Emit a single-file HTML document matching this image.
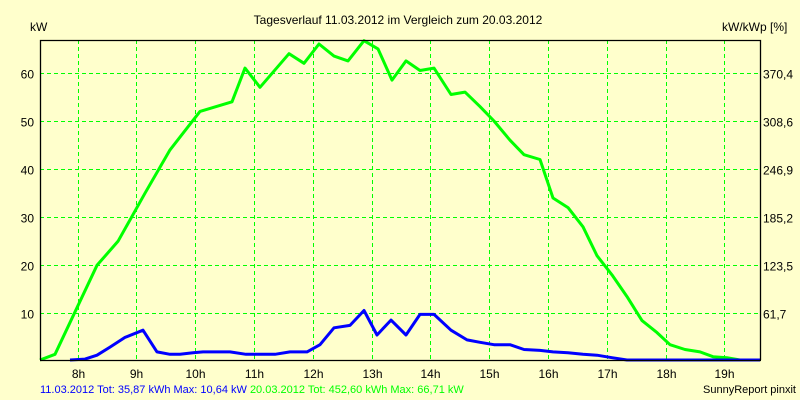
<!DOCTYPE html>
<html><head><meta charset="utf-8"><style>
body{margin:0;background:#ffffcc}
svg{display:block;font-family:"Liberation Sans",sans-serif;font-size:12px}
</style></head><body>
<svg width="800" height="400" xmlns="http://www.w3.org/2000/svg">
<rect width="800" height="400" fill="#ffffcc"/>
<g id="grid"></g>
<g id="series"></g>
<g id="axes"></g>
<text x="398" y="24" text-anchor="middle">Tagesverlauf 11.03.2012 im Vergleich zum 20.03.2012</text>
<text x="30" y="31">kW</text>
<text x="722" y="31">kW/kWp [%]</text>
<text x="40" y="393" fill="#0000ff" font-size="11">11.03.2012 Tot: 35,87 kWh Max: 10,64 kW <tspan fill="#00ff00">20.03.2012 Tot: 452,60 kWh Max: 66,71 kW</tspan></text>
<text x="796" y="393" text-anchor="end" font-size="11">SunnyReport pinxit</text>
</svg>
<script>
const xTicks=[8,9,10,11,12,13,14,15,16,17,18,19];
const yTicks=[10,20,30,40,50,60];
const rightLabels=["61,7","123,5","185,2","246,9","308,6","370,4"];
const greenX=[40,55,97,118,145,170,200,232,245,260,289,304,319,334,348,364,378,392,406,420,434,451,465,480,494,510,524,540,553,568,583,597,612,627,642,657,670,685,700,713,727,740,760];
const greenV=[0,1.5,20,25,35,44,52,54,61,57,64,62,66,63.5,62.5,66.7,65,58.5,62.5,60.5,61,55.5,56,53,50,46,43,42,34,32,28,22,18,13.5,8.5,6,3.5,2.5,2,1,0.8,0,0];
const blueX=[70,85,97,110,125,143,157,170,180,193,203,230,246,275,290,307,320,334,350,364,377,391,406,420,434,451,467,480,494,510,524,540,553,568,583,597,612,627,642,760];
const blueV=[0,0.5,1.3,3,5,6.5,2,1.5,1.5,1.8,2,2,1.5,1.5,2,2,3.5,7,7.5,10.6,5.5,8.6,5.5,9.8,9.8,6.5,4.5,4,3.5,3.5,2.5,2.3,2,1.8,1.5,1.3,0.8,0.3,0,0];
const greenT=greenX.map(x=>8+(x-77.5)/58.8);
const blueT=blueX.map(x=>8+(x-77.5)/58.8);
const L=40,R=760,T=40,B=360;
function xs(h){return 77.5+58.8*(h-8);}
function ys(v){return Math.min(B,361.5-4.81*v);}
const NS="http://www.w3.org/2000/svg";
function mk(t,a,p){const e=document.createElementNS(NS,t);for(const k in a)e.setAttribute(k,a[k]);p.appendChild(e);return e;}
const grid=document.getElementById('grid'),axes=document.getElementById('axes'),ser=document.getElementById('series');
xTicks.forEach(h=>{const x=Math.round(xs(h))+0.5;
const g=mk('line',{x1:x,x2:x,y1:T,y2:B,stroke:'#00ff00','stroke-dasharray':'4,3'},grid);

const t=mk('text',{x:x,y:378,'text-anchor':'middle'},axes);t.textContent=h+'h';
});
yTicks.forEach((v,i)=>{const y=Math.round(ys(v))+0.5;
const g=mk('line',{x1:L,x2:R,y1:y,y2:y,stroke:'#00ff00','stroke-dasharray':'4,3'},grid);

const t=mk('text',{x:34,y:y+5,'text-anchor':'end'},axes);t.textContent=v;

const r=mk('text',{x:763,y:y+5},axes);r.textContent=rightLabels[i];
});
const ax=mk('path',{d:`M${L+0.5},${B} V${T+0.5} H${R+0.5} V${B} M${L},${B+0.5} H${R+1}`,stroke:'#000',fill:'none','stroke-width':1.3},axes);

function line(ts,vs,c,n){const d=ts.map((t,i)=>(i?'L':'M')+xs(t).toFixed(1)+','+ys(vs[i]).toFixed(1)).join(' ');
const p=mk('path',{d:d,stroke:c,fill:'none','stroke-width':3,'stroke-linejoin':'round'},ser);
}
line(greenT,greenV,'#00ff00','series-20-03-2012');
line(blueT,blueV,'#0000ff','series-11-03-2012');
</script>
</body></html>
